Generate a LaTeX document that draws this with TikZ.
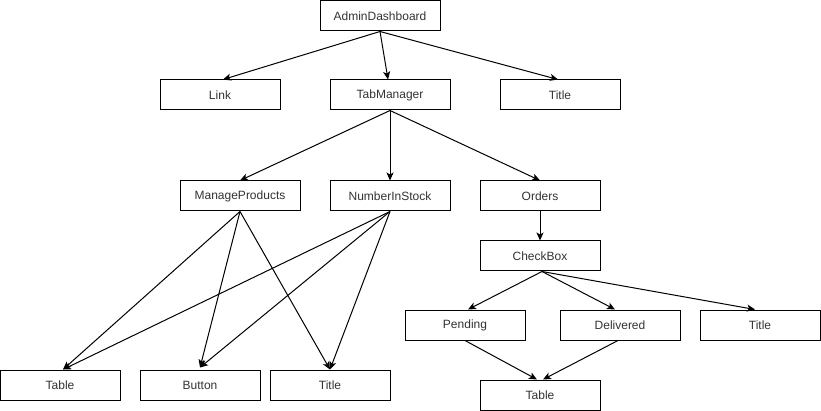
\documentclass[tikz,border=0pt]{standalone}
\usepackage{fontspec}
\setmainfont{Liberation Sans}
\usetikzlibrary{arrows.meta}
\begin{document}
\begin{tikzpicture}[x=1pt,y=-1pt,
  box/.style={draw=black,line width=1pt,fill=white,minimum width=120pt,minimum height=30pt,inner sep=0pt,font=\fontsize{12}{14}\selectfont,text=black!80},
  link/.style={draw=black,line width=1pt,-{Stealth[length=8pt,width=7pt,inset=2pt]}}]
\useasboundingbox (0,0) rectangle (821,411);
\node[box] (admin) at (380,16) {AdminDashboard};
\node[box] (lnk) at (220,95) {Link};
\node[box] (tab) at (390,95) {TabManager};
\node[box] (t1) at (560,95) {Title};
\node[box] (mp) at (240,196) {ManageProducts};
\node[box] (nis) at (390,196) {NumberInStock};
\node[box] (ord) at (540,196) {Orders};
\node[box] (cb) at (540,256) {CheckBox};
\node[box] (pend) at (465,325) {Pending};
\node[box] (deliv) at (620,325) {Delivered};
\node[box] (t2) at (760,325) {Title};
\node[box] (tbl1) at (60,385) {Table};
\node[box] (btn) at (200,385) {Button};
\node[box] (t3) at (330,385) {Title};
\node[box] (tbl2) at (540,395) {Table};

\draw[link] (admin.south) -- ([xshift=3pt]lnk.north);
\draw[link] (admin.south) -- ([xshift=-2pt]tab.north);
\draw[link] (admin.south) -- ([xshift=-2pt]t1.north);

\draw[link] (tab.south) -- (mp.north);
\draw[link] (tab.south) -- (nis.north);
\draw[link] (tab.south) -- (ord.north);

\draw[link] (mp.south) -- ([xshift=3pt]tbl1.north);
\draw[link] (mp.south) -- ([yshift=2pt]btn.north);
\draw[link] (mp.south) -- (t3.north);
\draw[link] (nis.south) -- ([xshift=3pt]tbl1.north);
\draw[link] (nis.south) -- ([yshift=2pt]btn.north);
\draw[link] (nis.south) -- (t3.north);

\draw[link] (ord.south) -- (cb.north);
\draw[link] ([xshift=2pt]cb.south) -- ([xshift=3pt]pend.north);
\draw[link] ([xshift=2pt]cb.south) -- ([xshift=-5pt]deliv.north);
\draw[link] ([xshift=2pt]cb.south) -- ([xshift=-5pt]t2.north);

\draw[link] (pend.south) -- ([xshift=-3pt]tbl2.north);
\draw[link] ([xshift=-2pt]deliv.south) -- ([xshift=3pt]tbl2.north);
\end{tikzpicture}
\end{document}
